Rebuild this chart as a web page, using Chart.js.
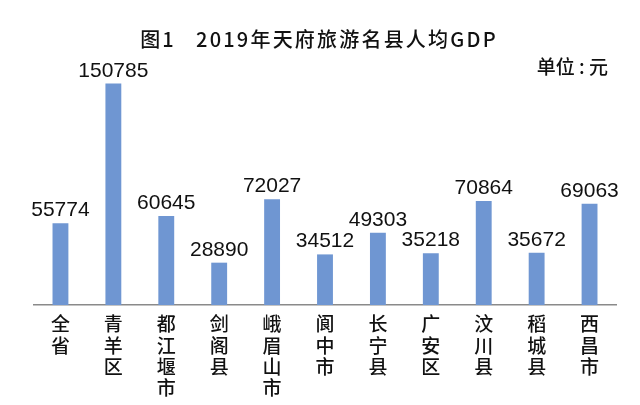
<!DOCTYPE html>
<html>
<head>
<meta charset="utf-8">
<script src="https://cdn.jsdelivr.net/npm/chart.js@4"></script>
<style>
  html,body{margin:0;padding:0;background:#fff;}
  #wrap{width:640px;height:405px;position:relative;}
</style>
</head>
<body>
<div id="wrap"><canvas id="c" width="640" height="405"></canvas></div>
<script>
const titleText = '图1   2019年天府旅游名县人均GDP';
const unitText = '单位 : 元';
const categories = ['全省','青羊区','都江堰市','剑阁县','峨眉山市','阆中市','长宁县','广安区','汶川县','稻城县','西昌市'];
const gdpValues = [55774, 150785, 60645, 28890, 72027, 34512, 49303, 35218, 70864, 35672, 69063];

const textPlugin = {
  id: 'texts',
  afterDatasetsDraw(chart) {
    const ctx = chart.ctx;
    const meta = chart.getDatasetMeta(0);
    ctx.save();
    ctx.fillStyle = '#111';
    ctx.font = '21px "Liberation Sans", Arial, sans-serif';
    ctx.textAlign = 'center';
    ctx.textBaseline = 'alphabetic';
    meta.data.forEach((bar, i) => {
      ctx.fillText(String(gdpValues[i]), bar.x, bar.y - 7);
    });
    ctx.restore();
  },
  afterDraw(chart) {
    const ctx = chart.ctx;
    ctx.save();
    ctx.fillStyle = '#111';
    ctx.textBaseline = 'alphabetic';
    ctx.textAlign = 'center';
    ctx.font = '500 20px "Noto Sans CJK SC", sans-serif';
    try { ctx.letterSpacing = '2.2px'; } catch (e) {}
    ctx.fillText(titleText, 319, 47);
    ctx.textAlign = 'right';
    try { ctx.letterSpacing = '0px'; } catch (e) {}
    ctx.font = '500 19px "Noto Sans CJK SC", sans-serif';
    ctx.fillText(unitText, 608, 74);
    ctx.restore();
  }
};

new Chart(document.getElementById('c'), {
  type: 'bar',
  data: {
    labels: categories.map(s => s.split('')),
    datasets: [{
      data: gdpValues,
      backgroundColor: '#6f96d2',
      borderWidth: 0,
      categoryPercentage: 1,
      barPercentage: 0.3
    }]
  },
  options: {
    responsive: false,
    animation: false,
    devicePixelRatio: 1,
    layout: { padding: { top: 70, left: 34, right: 24, bottom: -2 } },
    plugins: { legend: { display: false }, title: { display: false }, tooltip: { enabled: false } },
    scales: {
      y: { display: false, min: 0, max: 160000 },
      x: {
        grid: { display: false, drawTicks: false },
        border: { display: true, color: '#8a8a8a', width: 1.5 },
        ticks: {
          autoSkip: false,
          maxRotation: 0,
          padding: 8,
          color: '#111',
          font: { family: '"Noto Sans CJK SC", sans-serif', size: 19, weight: '500', lineHeight: 1.13 }
        }
      }
    }
  },
  plugins: [textPlugin]
});
</script>
</body>
</html>
